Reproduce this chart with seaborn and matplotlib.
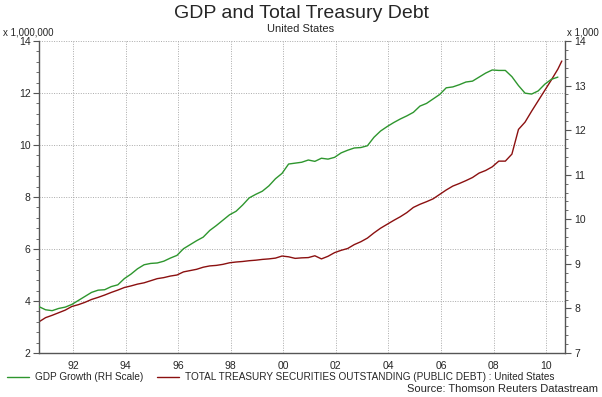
import matplotlib
matplotlib.use('Agg')
import matplotlib.pyplot as plt
import matplotlib.ticker as mticker
from matplotlib.lines import Line2D
import numpy as np
import pandas as pd
import seaborn as sns

# Fechas trimestrales (año decimal) y valores
gdp_dates = [1990.7 + 0.25 * i for i in range(80)]
gdp_values = [
    8.04, 7.97, 7.95, 8.00, 8.03, 8.09, 8.18, 8.27, 8.36, 8.41,
    8.42, 8.49, 8.53, 8.67, 8.77, 8.89, 8.98, 9.01, 9.02, 9.06,
    9.13, 9.19, 9.34, 9.43, 9.52, 9.60, 9.75, 9.86, 9.98, 10.10,
    10.18, 10.32, 10.48, 10.56, 10.63, 10.75, 10.91, 11.03, 11.24, 11.26,
    11.28, 11.33, 11.30, 11.37, 11.35, 11.39, 11.49, 11.55, 11.60, 11.61,
    11.65, 11.84, 11.98, 12.08, 12.17, 12.25, 12.32, 12.40, 12.54, 12.60,
    12.70, 12.80, 12.95, 12.97, 13.02, 13.08, 13.10, 13.19, 13.28, 13.35,
    13.34, 13.34, 13.20, 13.00, 12.83, 12.81, 12.88, 13.03, 13.14, 13.19,
]

debt_dates = [1990.7 + 0.25 * i for i in range(80)] + [2010.6]
debt_values = [
    3.20, 3.36, 3.45, 3.55, 3.65, 3.79, 3.86, 3.95, 4.06, 4.14,
    4.23, 4.33, 4.42, 4.52, 4.58, 4.65, 4.70, 4.78, 4.86, 4.90,
    4.96, 5.00, 5.12, 5.17, 5.22, 5.30, 5.35, 5.37, 5.41, 5.47,
    5.50, 5.52, 5.55, 5.57, 5.60, 5.62, 5.65, 5.73, 5.70, 5.64,
    5.66, 5.67, 5.74, 5.62, 5.72, 5.86, 5.95, 6.02, 6.17, 6.28,
    6.42, 6.62, 6.80, 6.95, 7.10, 7.24, 7.40, 7.60, 7.72, 7.82,
    7.93, 8.10, 8.27, 8.42, 8.52, 8.63, 8.75, 8.92, 9.02, 9.16,
    9.38, 9.38, 9.65, 10.60, 10.88, 11.30, 11.70, 12.10, 12.50, 12.92,
    13.23,
]

year_ticks = [1992, 1994, 1996, 1998, 2000, 2002, 2004, 2006, 2008, 2010]
year_labels = ['92', '94', '96', '98', '00', '02', '04', '06', '08', '10']

df_gdp = pd.DataFrame({'date': gdp_dates, 'value': gdp_values})
df_debt = pd.DataFrame({'date': debt_dates, 'value': debt_values})

sns.set_style('white')
plt.rcParams['font.family'] = ['Liberation Sans', 'DejaVu Sans']

verde = '#2e962e'
rojo = '#8b1010'

fig = plt.figure(figsize=(6.02, 3.97), dpi=100)
ax = fig.add_axes([0.0648, 0.1108, 0.8737, 0.7859])
ax2 = ax.twinx()

sns.lineplot(data=df_debt, x='date', y='value', color=rojo, linewidth=1.0, ax=ax)
sns.lineplot(data=df_gdp, x='date', y='value', color=verde, linewidth=1.0, ax=ax2)

ax.set_xlim(1990.7, 2010.72)
ax.set_ylim(2, 14)
ax2.set_ylim(7, 14)

ax.set_xticks(year_ticks)
ax.set_xticklabels(year_labels)
ax.xaxis.set_minor_locator(mticker.MultipleLocator(0.25))
ax.yaxis.set_major_locator(mticker.MultipleLocator(2))
ax.yaxis.set_minor_locator(mticker.MultipleLocator(0.4))
ax2.yaxis.set_major_locator(mticker.MultipleLocator(1))
ax2.yaxis.set_minor_locator(mticker.MultipleLocator(0.2))

ax.set_xlabel('')
ax.set_ylabel('')
ax2.set_ylabel('')

ax.grid(True, which='major', color='#aaaaaa', linestyle=(0, (1, 1.5)), linewidth=0.7)
ax2.grid(False)

for a in (ax, ax2):
    for s in a.spines.values():
        s.set_color('#555555')
        s.set_linewidth(1.0)
    a.spines['top'].set_visible(False)
ax.spines['right'].set_visible(False)
ax2.spines['left'].set_visible(False)
ax2.spines['bottom'].set_visible(False)

ax.tick_params(axis='both', which='major', direction='out', length=4, width=0.8,
               color='#555555', labelsize=7.5, pad=2)
ax.tick_params(axis='both', which='minor', direction='out', length=2, width=0.6, color='#555555')
ax.tick_params(axis='x', which='major', pad=1.5)
ax2.tick_params(axis='y', which='major', direction='out', length=4, width=0.8,
                color='#555555', labelsize=7.5, pad=3)
ax2.tick_params(axis='y', which='minor', direction='out', length=2, width=0.6, color='#555555')

fig.text(0.5, 0.965, 'GDP and Total Treasury Debt', ha='center', va='center', fontsize=14)
fig.text(0.5, 0.928, 'United States', ha='center', va='center', fontsize=8)
fig.text(0.005, 0.918, 'x 1,000,000', ha='left', va='center', fontsize=7)
fig.text(0.942, 0.918, 'x 1,000', ha='left', va='center', fontsize=7)

handles = [Line2D([0], [0], color=verde, linewidth=1),
           Line2D([0], [0], color=rojo, linewidth=1)]
labels = ['GDP Growth (RH Scale)',
          'TOTAL TREASURY SECURITIES OUTSTANDING (PUBLIC DEBT) : United States']
fig.legend(handles, labels, loc='center left', bbox_to_anchor=(0.005, 0.05), ncol=2,
           frameon=False, fontsize=7.2, handlelength=2.2, handletextpad=0.6,
           columnspacing=1.4, borderaxespad=0)
fig.text(0.993, 0.02, 'Source: Thomson Reuters Datastream', ha='right', va='center', fontsize=8)

plt.savefig('out.png', dpi=100)
